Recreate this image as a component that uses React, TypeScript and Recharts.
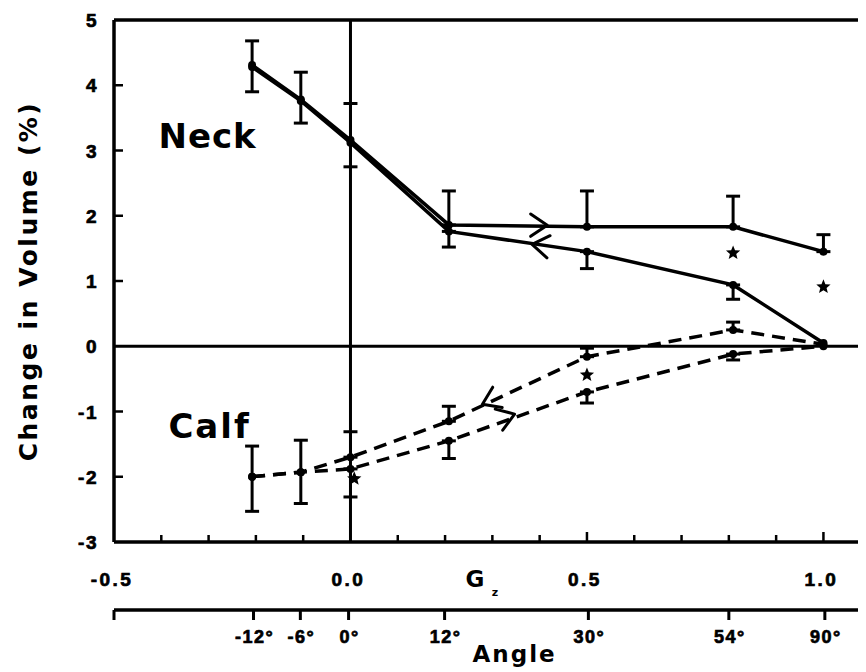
import React from "react";
import {
  ComposedChart,
  Line,
  Scatter,
  XAxis,
  YAxis,
  ReferenceLine,
  ReferenceDot,
  ErrorBar,
} from "recharts";

const FONT = "'DejaVu Sans', 'Liberation Sans', Arial, sans-serif";
const NUM_FONT = "'Liberation Sans', Arial, Helvetica, sans-serif";

// Gz = sin(tilt angle); one point per tilt angle
const GZ = [-0.208, -0.105, 0, 0.208, 0.5, 0.809, 1.0];

// neck: upper solid curve (tilting up, ">") and lower solid curve (tilting back, "<")
const NECK_UP = [4.31, 3.78, 3.16, 1.86, 1.83, 1.83, 1.45];
const NECK_DOWN = [4.28, 3.76, 3.12, 1.76, 1.45, 0.94, 0.05];
// calf: lower dashed curve (">") and upper dashed curve ("<")
const CALF_UP = [-2.0, -1.93, -1.88, -1.45, -0.7, -0.12, 0.0];
const CALF_DOWN = [-2.0, -1.93, -1.7, -1.15, -0.16, 0.25, 0.03];

// error bars as [below, above]
const NECK_UP_ERR = [[0.41, 0.37], [0.36, 0.42], [0.41, 0.56], [0, 0.52], [0, 0.55], [0, 0.47], [0, 0.26]];
const NECK_DOWN_ERR = [null, null, null, [0.24, 0], [0.26, 0], [0.22, 0], null];
const CALF_UP_ERR = [[0.53, 0.47], [0.48, 0.49], [0.43, 0], [0.27, 0], [0.17, 0], [0.09, 0], null];
const CALF_DOWN_ERR = [null, null, [0, 0.39], [0, 0.23], [0, 0.13], [0, 0.12], null];

// significance stars
const STAR_GZ = [0.809, 1.0, 0.5, 0.008];
const STAR_VAL = [1.43, 0.91, -0.44, -2.03];

// direction arrows on the curves
const ARROW_GZ = [0.416, 0.384, 0.279, 0.347];
const ARROW_VAL = [1.856, 1.56, -0.89, -1.04];
const ARROW_ROT = [0, 188, 155, -19.5];

const Y_TICKS = [-3, -2, -1, 0, 1, 2, 3, 4, 5];
const X_TICKS = [-0.5, -0.4, -0.3, -0.2, -0.1, 0, 0.1, 0.2, 0.3, 0.4, 0.5, 0.6, 0.7, 0.8, 0.9, 1.0];
const X_LABEL_VALUES = [-0.5, 0, 0.5, 1.0];
const X_LABEL_TEXT = ["-0.5", "0.0", "0.5", "1.0"];

const ANGLE_TICK_POS = [-0.5, -0.205, -0.106, -0.004, 0.199, 0.503, 0.8, 1.003];
const ANGLE_TICK_LABELS = ["", "-12°", "-6°", "0°", "12°", "30°", "54°", "90°"];

const chartData = GZ.map((gz, i) => ({
  gz,
  neckUp: NECK_UP[i],
  neckDown: NECK_DOWN[i],
  calfUp: CALF_UP[i],
  calfDown: CALF_DOWN[i],
  neckUpErr: NECK_UP_ERR[i],
  neckDownErr: NECK_DOWN_ERR[i],
  calfUpErr: CALF_UP_ERR[i],
  calfDownErr: CALF_DOWN_ERR[i],
}));

const starData = STAR_GZ.map((gz, i) => ({ gz, v: STAR_VAL[i] }));

const near = (a: number, b: number) => Math.abs(a - b) < 1e-6;

// heavy numerals, like the scanned original
const numStyle: React.CSSProperties = {
  fontFamily: NUM_FONT,
  fontWeight: 700,
  fill: "#000",
  stroke: "#000",
  strokeWidth: 0.7,
};

function YTick({ x, y, payload }: any) {
  const v = payload.value as number;
  const inward = v !== -3 && v !== 5 && v !== 0;
  return (
    <g>
      {inward && <line x1={x} x2={x + 9} y1={y} y2={y} stroke="#000" strokeWidth={2.5} />}
      <text x={x - 16} y={y + 7} textAnchor="end" style={{ ...numStyle, fontSize: 19, letterSpacing: 1.5 }}>
        {v}
      </text>
    </g>
  );
}

function GzTick({ x, y, payload }: any) {
  const v = payload.value as number;
  const idx = X_LABEL_VALUES.findIndex((t) => near(t, v));
  const edge = near(v, -0.5) || near(v, 0);
  const major = near(v, 0.5) || near(v, 1.0);
  return (
    <g>
      {!edge && <line x1={x} x2={x} y1={y} y2={y - (major ? 10 : 7)} stroke="#000" strokeWidth={2.5} />}
      {idx >= 0 && (
        <text x={x - 2} y={y + 44} textAnchor="middle" style={{ ...numStyle, fontSize: 19, letterSpacing: 2.5 }}>
          {X_LABEL_TEXT[idx]}
        </text>
      )}
    </g>
  );
}

function AngleTick({ x, y, payload }: any) {
  const idx = ANGLE_TICK_POS.findIndex((t) => near(t, payload.value));
  const label = idx >= 0 ? ANGLE_TICK_LABELS[idx] : "";
  return (
    <g>
      <line x1={x} x2={x} y1={y} y2={y + 10} stroke="#000" strokeWidth={3} />
      {label && (
        <text x={x + 1} y={y + 33} textAnchor="middle" style={{ ...numStyle, fontSize: 18, letterSpacing: 1.5 }}>
          {label}
        </text>
      )}
    </g>
  );
}

const dotShape = (p: any) => <circle key={`d-${p.index}`} cx={p.cx} cy={p.cy} r={4} fill="#000" />;

function Star({ cx, cy }: any) {
  const pts: string[] = [];
  for (let k = 0; k < 10; k++) {
    const r = k % 2 === 0 ? 7.5 : 3.3;
    const a = -Math.PI / 2 + (k * Math.PI) / 5;
    pts.push(`${cx + r * Math.cos(a)},${cy + r * Math.sin(a)}`);
  }
  return <polygon points={pts.join(" ")} fill="#000" />;
}

function Chevron({ cx, cy, rot }: any) {
  const L = 20;
  const a = (34 * Math.PI) / 180;
  const bx = -L * Math.cos(a);
  const by = L * Math.sin(a);
  return (
    <path
      d={`M${bx},${-by} L0,0 L${bx},${by}`}
      transform={`translate(${cx},${cy}) rotate(${rot})`}
      fill="none"
      stroke="#000"
      strokeWidth={3}
      strokeLinecap="round"
      strokeLinejoin="round"
    />
  );
}

export default function App() {
  return (
    <ComposedChart
      width={858}
      height={664}
      data={chartData}
      margin={{ top: 12, right: 0, bottom: 2, left: 46 }}
    >
      <XAxis
        dataKey="gz"
        type="number"
        domain={[-0.5, 1.09]}
        allowDataOverflow
        ticks={X_TICKS}
        interval={0}
        height={68}
        tickSize={0}
        tickMargin={0}
        tickLine={false}
        axisLine={{ stroke: "#000", strokeWidth: 3.5 }}
        tick={(p: any) => <GzTick {...p} />}
      />
      <XAxis
        xAxisId="angle"
        dataKey="gz"
        type="number"
        domain={[-0.5, 1.09]}
        allowDataOverflow
        ticks={ANGLE_TICK_POS}
        interval={0}
        height={60}
        tickSize={0}
        tickMargin={0}
        tickLine={false}
        axisLine={{ stroke: "#000", strokeWidth: 3.5 }}
        tick={(p: any) => <AngleTick {...p} />}
      />
      <YAxis
        type="number"
        domain={[-3, 5]}
        allowDataOverflow
        ticks={Y_TICKS}
        interval={0}
        width={60}
        tickSize={0}
        tickMargin={0}
        tickLine={false}
        axisLine={{ stroke: "#000", strokeWidth: 3.5 }}
        tick={(p: any) => <YTick {...p} />}
      />

      <ReferenceLine y={5} stroke="#000" strokeWidth={3.5} />
      <ReferenceLine y={0} stroke="#000" strokeWidth={3} />
      <ReferenceLine x={0} stroke="#000" strokeWidth={3} />

      <Line type="linear" dataKey="neckUp" stroke="#000" strokeWidth={3.5} dot={dotShape} activeDot={false} isAnimationActive={false}>
        <ErrorBar dataKey="neckUpErr" direction="y" width={7} stroke="#000" strokeWidth={3} />
      </Line>
      <Line type="linear" dataKey="neckDown" stroke="#000" strokeWidth={3.5} dot={dotShape} activeDot={false} isAnimationActive={false}>
        <ErrorBar dataKey="neckDownErr" direction="y" width={7} stroke="#000" strokeWidth={3} />
      </Line>
      <Line type="linear" dataKey="calfUp" stroke="#000" strokeWidth={3.5} strokeDasharray="13 8" dot={dotShape} activeDot={false} isAnimationActive={false}>
        <ErrorBar dataKey="calfUpErr" direction="y" width={7} stroke="#000" strokeWidth={3} />
      </Line>
      <Line type="linear" dataKey="calfDown" stroke="#000" strokeWidth={3.5} strokeDasharray="13 8" dot={dotShape} activeDot={false} isAnimationActive={false}>
        <ErrorBar dataKey="calfDownErr" direction="y" width={7} stroke="#000" strokeWidth={3} />
      </Line>

      <Scatter data={starData} dataKey="v" isAnimationActive={false} shape={(p: any) => <Star cx={p.cx} cy={p.cy} />} />

      {ARROW_GZ.map((gz, i) => (
        <ReferenceDot
          key={`arrow-${i}`}
          x={gz}
          y={ARROW_VAL[i]}
          r={1}
          shape={(p: any) => <Chevron cx={p.cx} cy={p.cy} rot={ARROW_ROT[i]} />}
        />
      ))}

      <ReferenceDot
        x={-0.406}
        y={3.04}
        r={1}
        shape={(p: any) => (
          <text x={p.cx} y={p.cy} fontSize={34} fontWeight="bold" letterSpacing={1} fontFamily={FONT} fill="#000">
            Neck
          </text>
        )}
      />
      <ReferenceDot
        x={-0.385}
        y={-1.4}
        r={1}
        shape={(p: any) => (
          <text x={p.cx} y={p.cy} fontSize={34} fontWeight="bold" letterSpacing={2} fontFamily={FONT} fill="#000">
            Calf
          </text>
        )}
      />
      <ReferenceDot
        x={-0.5}
        y={1}
        r={1}
        shape={(p: any) => (
          <text
            x={p.cx - 86}
            y={p.cy}
            transform={`rotate(-90 ${p.cx - 86} ${p.cy})`}
            textAnchor="middle"
            dominantBaseline="central"
            fontSize={25}
            fontWeight="bold"
            letterSpacing={2.5}
            fontFamily={FONT}
            fill="#000"
          >
            Change in Volume (%)
          </text>
        )}
      />
      <ReferenceDot
        x={0.263}
        y={-3}
        r={1}
        shape={(p: any) => (
          <g>
            <text x={p.cx} y={p.cy + 45} textAnchor="middle" fontSize={23} fontWeight="bold" fontFamily={FONT} fill="#000">
              G
            </text>
            <text x={p.cx + 20} y={p.cy + 54} textAnchor="middle" fontSize={11} fontWeight="bold" fontFamily={FONT} fill="#000">
              z
            </text>
          </g>
        )}
      />
      <ReferenceDot
        x={0.347}
        y={-3}
        r={1}
        shape={(p: any) => (
          <text x={p.cx} y={p.cy + 120} textAnchor="middle" fontSize={23} fontWeight="bold" letterSpacing={2} fontFamily={FONT} fill="#000">
            Angle
          </text>
        )}
      />
    </ComposedChart>
  );
}
